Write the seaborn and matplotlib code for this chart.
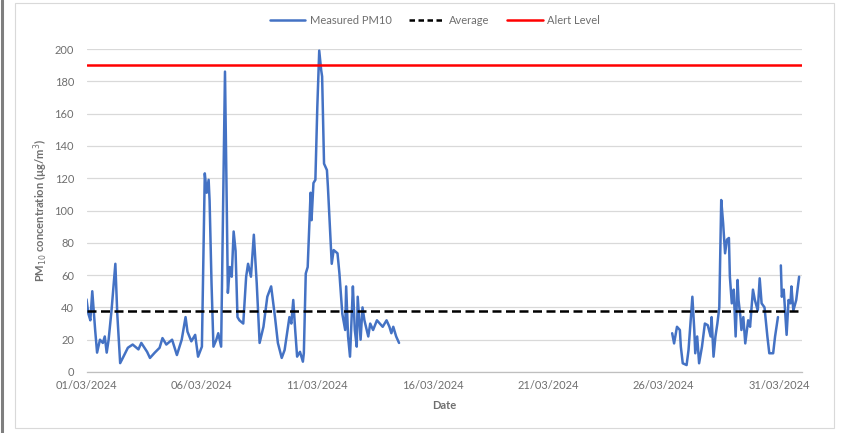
import numpy as np
import pandas as pd
import matplotlib
matplotlib.use("Agg")
import matplotlib.pyplot as plt
import matplotlib.dates as mdates
from matplotlib.lines import Line2D
from matplotlib.patches import Rectangle
import seaborn as sns

# ---------------- data (hours since 01/03/2024 00:00, PM10 in ug/m3) ----------------
hours_a = [0, 2, 4, 6, 9, 11, 14, 17, 19, 21, 23, 26, 30, 32, 35, 38, 43, 48, 54, 57,
           63, 66, 71, 76, 79, 83, 89, 94, 99, 103, 105, 109, 113, 116, 120, 123, 125, 127, 128, 130,
           132, 135, 137, 140, 144, 146, 147, 149, 151, 153, 155, 157, 159, 163, 166, 168, 171, 174, 177, 180,
           184, 188, 192, 196, 199, 203, 206, 211, 213, 215, 217, 219, 222, 225, 226, 228, 230, 233, 234, 236,
           238, 240, 242, 244, 245, 247, 250, 251, 255, 257, 261, 263, 266, 269, 270, 272, 274, 276, 277, 279,
           281, 282, 285, 287, 289, 293, 295, 298, 302, 305, 308, 312, 315, 317, 319, 322, 325]
pm10_a = [45, 36, 32, 50, 26, 12, 20, 18, 22, 12, 20, 38, 67, 36, 5.5, 9, 15, 17, 14, 18,
          12.5, 8.7, 12, 15, 21, 17, 20, 10.5, 20, 34, 25, 19, 23, 9.5, 15.7, 123, 111, 119, 106, 55,
          15.7, 20, 24, 15.7, 186, 96, 49, 65, 59, 87, 75, 34, 32, 30, 59, 67, 59, 85, 55, 18,
          28, 46.6, 53, 34, 18, 8.7, 13.6, 34, 30, 44.6, 26, 9.5, 12.5, 6.4, 11.7, 61, 65, 111, 94, 117,
          119, 164, 199, 187, 183, 129, 125, 115, 67, 75.5, 73.5, 61, 36, 26, 53, 22, 9.5, 38, 53, 26,
          15.7, 46.6, 20, 40, 32, 22, 30, 26, 32, 30, 28, 32, 28, 24, 28, 22, 18]

hours_b = [609, 611, 614, 617, 618, 620, 624, 626, 628, 630, 632, 633, 635, 637, 640, 643, 646, 649, 650, 652,
           654, 656, 658, 660, 662, 664, 666, 668, 669, 671, 673, 675, 677, 678, 680, 681, 683, 685, 688, 690,
           693, 695, 698, 700, 702, 705, 708, 710, 714, 716, 719]
pm10_b = [24, 17.7, 28, 26, 15.7, 5.4, 4.3, 13.6, 30, 46.6, 26, 11.6, 22, 5.4, 15.7, 30, 29, 22, 34, 9.5,
          22, 30, 40, 106.5, 92, 73.5, 82, 83, 59, 42.5, 51, 22, 57, 44.6, 34, 26, 34, 17.7, 32, 28,
          51, 44.6, 38, 58, 42.5, 40, 22, 11.6, 11.6, 22, 34]

hours_c = [722, 723, 725, 728, 730, 732, 733, 735, 738, 741]
pm10_c = [66, 46.6, 51, 23, 44.6, 42.5, 53, 38, 44.6, 59]

average_pm10 = 38
alert_level = 190

start_date = "2024-03-01"
end_date = "2024-04-01"
tick_dates = ["2024-03-01", "2024-03-06", "2024-03-11", "2024-03-16",
              "2024-03-21", "2024-03-26", "2024-03-31"]
y_ticks = [0, 20, 40, 60, 80, 100, 120, 140, 160, 180, 200]

legend_labels = ["Measured PM10", "Average", "Alert Level"]

# ---------------- build table ----------------
frames = []
for seg, (h, v) in enumerate([(hours_a, pm10_a), (hours_b, pm10_b), (hours_c, pm10_c)]):
    frames.append(pd.DataFrame({
        "time": pd.Timestamp(start_date) + pd.to_timedelta(h, unit="h"),
        "pm10": v,
        "segment": seg,
    }))
df = pd.concat(frames, ignore_index=True)

# ---------------- style ----------------
sns.set_theme(style="white")
plt.rcParams["font.family"] = ["Lato", "DejaVu Sans"]

BLUE = "#4472C4"
GRAY_TXT = "#6f6f6f"
GRID = "#d9d9d9"

fig = plt.figure(figsize=(8.42, 4.33), dpi=100)
ax = fig.add_axes([86.5 / 842, 1 - 372 / 433, (802 - 86.5) / 842, (372 - 49) / 433])

ax.yaxis.grid(True, color=GRID, lw=0.9)
ax.xaxis.grid(False)
ax.set_axisbelow(True)

sns.lineplot(data=df, x="time", y="pm10", units="segment", estimator=None,
             color=BLUE, lw=1.8, ax=ax, legend=False, zorder=3)
ax.axhline(average_pm10, color="black", lw=1.8, ls=(0, (3.6, 1.8)), zorder=4)
ax.axhline(alert_level, color="#FF0000", lw=1.8, zorder=4)

ax.set_ylim(0, 200)
ax.set_xlim(pd.Timestamp(start_date), pd.Timestamp(end_date))
ax.set_yticks(y_ticks)
ax.set_xticks(pd.to_datetime(tick_dates))
ax.xaxis.set_major_formatter(mdates.DateFormatter("%d/%m/%Y"))

for s in ["top", "right", "left"]:
    ax.spines[s].set_visible(False)
ax.spines["bottom"].set_color("#bfbfbf")
ax.spines["bottom"].set_linewidth(0.9)

ax.tick_params(axis="both", length=0, labelsize=8, labelcolor=GRAY_TXT)
ax.tick_params(axis="x", pad=6)
ax.tick_params(axis="y", pad=9)

ax.set_xlabel("Date", fontsize=8, fontweight="bold", color=GRAY_TXT, labelpad=6)
ax.set_ylabel("PM$_{10}$ concentration (µg/m$^3$)", fontsize=8, fontweight="bold",
              color=GRAY_TXT, labelpad=3)

handles = [Line2D([], [], color=BLUE, lw=1.8),
           Line2D([], [], color="black", lw=1.8, ls=(0, (2.2, 1.4))),
           Line2D([], [], color="#FF0000", lw=1.8)]
fig.legend(handles, legend_labels, loc="center", bbox_to_anchor=(435 / 842, 1 - 20 / 433),
           ncol=3, frameon=False, fontsize=8, labelcolor=GRAY_TXT,
           handlelength=3.2, handletextpad=0.4, columnspacing=1.6)

# chart frame
fig.add_artist(Rectangle((15 / 842, 1 - 428 / 433), (834 - 15) / 842, (428 - 3) / 433,
                         transform=fig.transFigure, fill=False, ec="#d9d9d9", lw=0.8))
fig.add_artist(Line2D([1.5 / 842, 1.5 / 842], [0, 1], transform=fig.transFigure,
                      color="#7f7f7f", lw=2.2))

fig.savefig("out.png", dpi=100)
